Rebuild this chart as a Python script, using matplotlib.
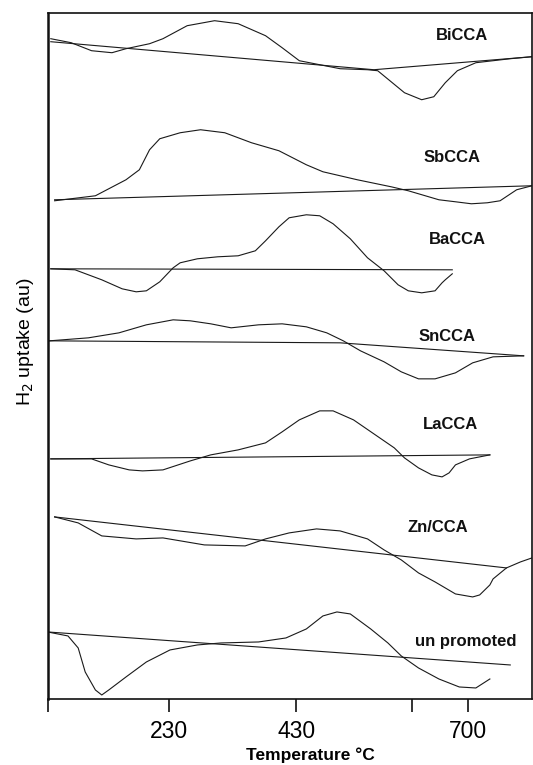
import matplotlib
matplotlib.use("Agg")
import matplotlib.pyplot as plt

plt.rcParams['font.family'] = ['Liberation Sans', 'DejaVu Sans']

# TPR profiles, stacked (H2 uptake in arbitrary units, offset per sample)
names = ["BiCCA", "SbCCA", "BaCCA", "SnCCA", "LaCCA", "Zn/CCA", "un promoted"]

bi_T = [45, 77, 109, 141, 163, 200, 221, 259, 302, 339, 382, 408, 435, 467, 499,
        542, 558, 579, 600, 627, 646, 664, 683, 712, 739, 766, 800]
bi_y = [660, 656, 648, 646, 650, 655, 660, 673, 678, 675, 663, 651, 638, 634, 630,
        629, 628, 617, 606, 599, 602, 616, 628, 636, 638, 640, 642]
bi_base_T = [45, 552, 800]
bi_base_y = [657, 629, 642]

sb_T = [51, 115, 163, 184, 200, 216, 248, 280, 318, 360, 403, 446, 472, 526, 579,
        606, 654, 680, 705, 730, 750, 776, 800]
sb_y = [498, 503, 519, 529, 549, 560, 566, 569, 566, 556, 548, 534, 527, 519, 512,
        508, 499, 497, 495, 496, 498, 509, 513]
sb_base_T = [51, 800]
sb_base_y = [499, 513]

ba_T = [45, 83, 125, 157, 179, 195, 216, 237, 248, 275, 307, 339, 366, 382, 403,
        419, 446, 467, 488, 515, 542, 568, 590, 606, 627, 648, 659, 664, 675]
ba_y = [430, 429, 419, 410, 407, 408, 417, 431, 436, 440, 442, 443, 448, 458, 472,
        481, 484, 483, 475, 460, 441, 428, 414, 408, 406, 408, 416, 419, 425]
ba_base_T = [45, 675]
ba_base_y = [430, 429]

sn_T = [43, 104, 152, 195, 237, 264, 296, 328, 371, 408, 446, 478, 504, 531, 568,
        595, 622, 648, 680, 707, 739, 787]
sn_y = [358, 361, 366, 374, 379, 378, 375, 371, 374, 375, 372, 366, 358, 348, 337,
        327, 320, 320, 326, 336, 342, 343]
sn_base_T = [43, 499, 787]
sn_base_y = [358, 356, 343]

la_T = [45, 109, 136, 168, 189, 221, 264, 296, 339, 382, 408, 435, 467, 488, 520,
        552, 584, 600, 622, 643, 659, 670, 680, 702, 734]
la_y = [240, 240, 234, 229, 228, 229, 238, 244, 249, 256, 267, 279, 288, 288, 279,
        265, 251, 241, 231, 224, 222, 226, 234, 240, 244]
la_base_T = [45, 734]
la_base_y = [240, 244]

zn_T = [51, 88, 125, 179, 221, 286, 350, 382, 419, 462, 499, 542, 568, 595, 622,
        648, 680, 707, 718, 734, 739, 760, 782, 800]
zn_y = [182, 176, 163, 160, 161, 154, 153, 160, 166, 170, 168, 160, 149, 139, 126,
        117, 105, 102, 104, 114, 120, 131, 137, 141]
zn_base_T = [51, 760]
zn_base_y = [182, 131]

un_T = [40, 72, 88, 99, 115, 125, 136, 163, 195, 232, 275, 312, 371, 414, 446, 472,
        494, 515, 547, 574, 595, 622, 654, 686, 712, 734]
un_y = [67, 63, 51, 27, 9, 4, 9, 22, 37, 49, 54, 56, 57, 61, 70, 83, 87, 85, 70, 56,
        43, 31, 20, 12, 11, 20]
un_base_T = [40, 766]
un_base_y = [67, 34]

tick_temps = [230, 430, 700]
tick_labels = ["230", "430", "700"]
minor_temps = [40, 612]

curves = [(bi_T, bi_y, bi_base_T, bi_base_y),
          (sb_T, sb_y, sb_base_T, sb_base_y),
          (ba_T, ba_y, ba_base_T, ba_base_y),
          (sn_T, sn_y, sn_base_T, sn_base_y),
          (la_T, la_y, la_base_T, la_base_y),
          (zn_T, zn_y, zn_base_T, zn_base_y),
          (un_T, un_y, un_base_T, un_base_y)]

# where the sample names sit (T, au)
label_pos = [(691, 663), (675, 541), (683, 459), (667, 362),
             (672, 274), (653, 171), (696, 57)]

fig = plt.figure(figsize=(5.33, 7.65), dpi=100)
ax = fig.add_axes([0.0893, 0.0863, 0.9087, 0.8971])

for (T, y, bT, by), name, (lx, ly) in zip(curves, names, label_pos):
    ax.plot(T, y, color='#1a1a1a', lw=0.8)
    ax.plot(bT, by, color='#1a1a1a', lw=0.8)
    ax.text(lx, ly, name, ha='center', va='center', fontsize=12,
            fontweight='bold', color='#111111')

ax.set_xlim(40, 800)
ax.set_ylim(0, 686)

ax.set_xticks(tick_temps)
ax.set_xticklabels(tick_labels, fontsize=16.5)
ax.set_xticks(minor_temps, minor=True)
ax.tick_params(axis='x', which='both', direction='out', length=9, width=1.2,
               pad=6, color='#111111')
ax.set_yticks([])

for s in ax.spines.values():
    s.set_linewidth(1.2)
    s.set_color('#111111')
ax.spines['left'].set_linewidth(1.8)

ax.set_xlabel("Temperature °C", fontsize=12.5, fontweight='bold')
ax.xaxis.set_label_coords(0.542, -0.071)
ax.set_ylabel("H$_2$ uptake (au)", fontsize=14)
ax.yaxis.set_label_coords(-0.024, 0.52)

fig.savefig("out.png", dpi=100)
